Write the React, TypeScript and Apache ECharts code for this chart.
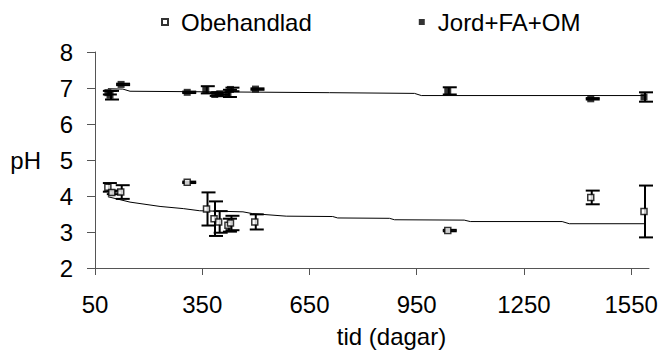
import React, { useEffect, useRef } from "react";
import * as echarts from "echarts";

const xTicks = [50, 350, 650, 950, 1250, 1550];

const obX = [86, 97, 122, 308, 362, 383, 396, 422, 429, 497, 1037, 1437, 1586];
const obY = [4.24, 4.1, 4.11, 4.38, 3.64, 3.37, 3.28, 3.19, 3.25, 3.28, 3.04, 3.96, 3.57];
const obErr = [0.12, 0.05, 0.19, 0.02, 0.46, 0.48, 0.3, 0.18, 0.2, 0.21, 0.02, 0.19, 0.72];

const jX = [86, 92, 123, 308, 360, 385, 399, 422, 429, 499, 1037, 1437, 1586];
const jY = [6.87, 6.8, 7.1, 6.88, 6.95, 6.82, 6.84, 6.85, 6.96, 6.97, 6.92, 6.7, 6.75];
const jErr = [0.05, 0.12, 0.02, 0.02, 0.1, 0.04, 0.03, 0.1, 0.05, 0.02, 0.1, 0.02, 0.13];

const obTrendX = [86, 148, 232, 297, 343, 464, 491, 585, 715, 729, 874, 888, 1083, 1100, 1357, 1377, 1586];
const obTrendY = [3.98, 3.83, 3.71, 3.65, 3.59, 3.56, 3.51, 3.44, 3.43, 3.39, 3.38, 3.34, 3.33, 3.29, 3.29, 3.23, 3.23];

const jTrendX = [86, 128, 148, 706, 944, 963, 1586];
const jTrendY = [6.98, 6.97, 6.91, 6.87, 6.85, 6.79, 6.79];

const FONT = "'Liberation Sans', Arial, sans-serif";
const FS = 24;

const zip = (xs: number[], ys: number[]) => xs.map((x, i) => [x, ys[i]]);
const zip3 = (xs: number[], ys: number[], es: number[]) => xs.map((x, i) => [x, ys[i], es[i]]);

const errorRender = (params: any, api: any) => {
  const x = api.value(0);
  const y = api.value(1);
  const e = api.value(2);
  const top = api.coord([x, y + e]);
  const bot = api.coord([x, y - e]);
  const hw = 7;
  const off = 2;
  const style = { stroke: "#000", lineWidth: 2 };
  return {
    type: "group",
    children: [
      { type: "line", shape: { x1: top[0] + 1, y1: top[1], x2: bot[0] + 1, y2: bot[1] }, style },
      { type: "line", shape: { x1: top[0] - hw + off, y1: top[1], x2: top[0] + hw + off, y2: top[1] }, style },
      { type: "line", shape: { x1: bot[0] - hw + off, y1: bot[1], x2: bot[0] + hw + off, y2: bot[1] }, style },
    ],
  };
};

export default function App() {
  const ref = useRef<HTMLDivElement>(null);
  useEffect(() => {
    if (!ref.current) return;
    const chart = echarts.init(ref.current, null, { renderer: "svg" });
    chart.setOption({
      animation: false,
      backgroundColor: "#fff",
      textStyle: { fontFamily: FONT },
      grid: { left: 95, right: 12, top: 52, bottom: 86 },
      legend: {
        data: [
          { name: "Obehandlad", icon: "rect" },
          { name: "Jord+FA+OM", icon: "rect" },
        ],
        left: 161,
        top: 10,
        padding: 0,
        itemWidth: 6,
        itemHeight: 6,
        itemGap: 107,
        itemTextGap: 5,
        textStyle: { fontSize: FS, color: "#000", fontFamily: FONT, padding: [0, 0, 0, 8] },
      },
      xAxis: {
        type: "value",
        min: 50,
        max: 1600,
        name: "tid (dagar)",
        nameLocation: "middle",
        nameGap: 56,
        nameTextStyle: { fontSize: FS, color: "#000", fontFamily: FONT, padding: [0, 0, 0, 39] },
        axisLine: { show: true, lineStyle: { color: "#555", width: 1 } },
        axisTick: { show: true, length: 7, customValues: xTicks, lineStyle: { color: "#555" } },
        axisLabel: {
          customValues: xTicks,
          fontSize: FS,
          color: "#000",
          margin: 24,
          fontFamily: FONT,
          formatter: (v: number) => String(v),
        },
        splitLine: { show: false },
      },
      yAxis: {
        type: "value",
        min: 2,
        max: 8,
        interval: 1,
        name: "pH",
        nameLocation: "middle",
        nameRotate: 0,
        nameGap: 54,
        nameTextStyle: { fontSize: FS, color: "#000", fontFamily: FONT },
        axisLine: { show: true, lineStyle: { color: "#555", width: 1 } },
        axisTick: { show: true, length: 8, lineStyle: { color: "#555" } },
        axisLabel: { fontSize: FS, color: "#000", margin: 22, fontFamily: FONT },
        splitLine: { show: false },
      },
      series: [
        {
          name: "trendOb",
          type: "line",
          data: zip(obTrendX, obTrendY),
          showSymbol: false,
          silent: true,
          lineStyle: { color: "#000", width: 1 },
          z: 1,
        },
        {
          name: "trendJ",
          type: "line",
          data: zip(jTrendX, jTrendY),
          showSymbol: false,
          silent: true,
          lineStyle: { color: "#000", width: 1 },
          z: 1,
        },
        {
          name: "errOb",
          type: "custom",
          renderItem: errorRender,
          data: zip3(obX, obY, obErr),
          encode: { x: 0, y: 1 },
          silent: true,
          z: 2,
        },
        {
          name: "errJ",
          type: "custom",
          renderItem: errorRender,
          data: zip3(jX, jY, jErr),
          encode: { x: 0, y: 1 },
          silent: true,
          z: 2,
        },
        {
          name: "Obehandlad",
          type: "scatter",
          symbol: "rect",
          symbolSize: 6,
          data: zip(obX, obY),
          itemStyle: { color: "#fff", borderColor: "#000", borderWidth: 1.5 },
          z: 3,
        },
        {
          name: "Jord+FA+OM",
          type: "scatter",
          symbol: "rect",
          symbolSize: 7,
          data: zip(jX, jY),
          itemStyle: { color: "#000" },
          z: 3,
        },
      ],
    });
    return () => chart.dispose();
  }, []);
  return <div ref={ref} style={{ width: 661, height: 354, position: "absolute", left: 0, top: 0 }} />;
}
